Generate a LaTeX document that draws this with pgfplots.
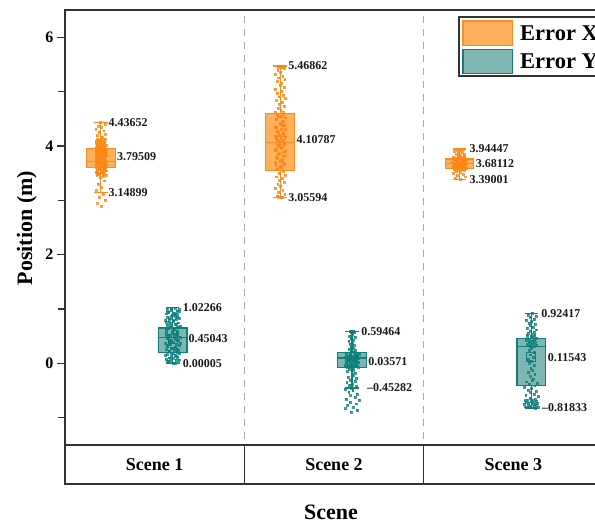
\documentclass[border=0pt]{standalone}
\usepackage{pgfplots}
\pgfplotsset{compat=1.18}
\usepgfplotslibrary{statistics}
\usepackage{fontspec}
\setmainfont{Liberation Serif}
\definecolor{xline}{HTML}{FF8A1E}
\definecolor{xfill}{HTML}{FFB05C}
\definecolor{xpt}{HTML}{FF8410}
\definecolor{yline}{HTML}{0E817D}
\definecolor{yfill}{HTML}{7FB5B2}
\definecolor{ypt}{HTML}{0B7F7B}
\definecolor{axgray}{HTML}{333333}
\definecolor{sepgray}{HTML}{AAAAAA}
\tikzset{lbl/.style={font=\fontsize{12}{14}\selectfont\bfseries, inner sep=0pt, text=black!90}}
\begin{document}
\begin{tikzpicture}[x=1pt,y=1pt]
\useasboundingbox (0,0) rectangle (595,523);
\clip (0,0) rectangle (595,523);
\begin{axis}[
 at={(65pt,78pt)}, anchor=south west,
 scale only axis, width=538pt, height=435pt,
 xmin=0.5, xmax=3.5, ymin=-1.5, ymax=6.5,
 xtick=\empty,
 ytick={0,2,4,6}, minor ytick={-1,1,3,5},
 ytick pos=left, tick align=outside,
 major tick length=8pt, minor tick length=7pt,
 every tick/.style={axgray, line width=1.2pt},
 minor tick style={axgray, line width=1.2pt},
 axis line style={axgray, line width=1.4pt},
 yticklabel style={font=\fontsize{16}{19}\selectfont\bfseries, text=black},
 /pgf/number format/assume math mode=true,
 clip=false,
 boxplot/draw direction=y,
 xbox/.style={draw=xline, fill=xfill, line width=1.2pt, solid},
 ybox/.style={draw=yline, fill=yfill, line width=1.2pt, solid},
 xdots/.style={only marks, mark=square*, mark size=0.95pt, color=xpt, opacity=0.75},
 ydots/.style={only marks, mark=square*, mark size=0.95pt, color=ypt, opacity=0.75},
]
% separators
\draw[sepgray, line width=1pt, dash pattern=on 7.5pt off 5.5pt, dash phase=7.5pt] (axis cs:1.5,6.5) -- (axis cs:1.5,-1.5);
\draw[sepgray, line width=1pt, dash pattern=on 7.5pt off 5.5pt, dash phase=7.5pt] (axis cs:2.5,6.5) -- (axis cs:2.5,-1.5);

% ---------- boxes (filled) ----------
\addplot[xbox, boxplot prepared={draw position=0.7, lower whisker=3.14899, lower quartile=3.61, median=3.72, upper quartile=3.95, upper whisker=4.43652, box extend=0.16, whisker extend=0.075}] coordinates {};
\addplot[xbox, boxplot prepared={draw position=1.7, lower whisker=3.05594, lower quartile=3.55, median=4.07, upper quartile=4.595, upper whisker=5.46862, box extend=0.16, whisker extend=0.075}] coordinates {};
\addplot[xbox, boxplot prepared={draw position=2.7, lower whisker=3.39001, lower quartile=3.59, median=3.67, upper quartile=3.76, upper whisker=3.94447, box extend=0.16, whisker extend=0.075}] coordinates {};
\addplot[ybox, boxplot prepared={draw position=1.1, lower whisker=0.00005, lower quartile=0.20, median=0.47, upper quartile=0.65, upper whisker=1.02266, box extend=0.16, whisker extend=0.075}] coordinates {};
\addplot[ybox, boxplot prepared={draw position=2.1, lower whisker=-0.45282, lower quartile=-0.07, median=0.10, upper quartile=0.20, upper whisker=0.59464, box extend=0.16, whisker extend=0.075}] coordinates {};
\addplot[ybox, boxplot prepared={draw position=3.1, lower whisker=-0.81833, lower quartile=-0.40, median=0.31, upper quartile=0.46, upper whisker=0.92417, box extend=0.16, whisker extend=0.075}] coordinates {};

% mean markers
\addplot[only marks, mark=square, mark size=4pt, xline, line width=0.6pt] coordinates {(0.7,3.79509)(1.7,4.10787)(2.7,3.68112)};
\addplot[only marks, mark=square, mark size=4.5pt, yline, line width=0.6pt] coordinates {(1.1,0.45043)(2.1,0.03571)(3.1,0.11543)};

% ---------- jittered points ----------
% Scene 1, Error X
\addplot[xdots] coordinates {
(0.704,2.89)(0.681,2.95)(0.725,3.01)(0.691,3.06)(0.714,3.12)(0.672,3.18)(0.702,3.24)(0.686,3.30)(0.721,3.36)(0.696,3.42)
(0.711,3.45)(0.677,3.46)(0.729,3.47)(0.693,3.48)(0.717,3.49)(0.683,3.50)(0.705,3.51)(0.675,3.52)(0.719,3.53)(0.699,3.54)
(0.709,3.55)(0.679,3.56)(0.726,3.57)(0.689,3.58)(0.716,3.59)(0.671,3.60)(0.703,3.61)(0.687,3.62)(0.723,3.63)(0.694,3.64)
(0.712,3.65)(0.676,3.66)(0.730,3.67)(0.692,3.68)(0.718,3.69)(0.682,3.70)(0.707,3.71)(0.673,3.72)(0.720,3.73)(0.698,3.74)
(0.698,3.75)(0.720,3.76)(0.673,3.77)(0.707,3.78)(0.682,3.79)(0.718,3.80)(0.692,3.81)(0.730,3.82)(0.676,3.83)(0.712,3.84)
(0.694,3.85)(0.723,3.86)(0.687,3.87)(0.703,3.88)(0.671,3.89)(0.716,3.90)(0.689,3.91)(0.726,3.92)(0.679,3.93)(0.709,3.94)
(0.699,3.95)(0.719,3.96)(0.675,3.97)(0.705,3.98)(0.683,3.99)(0.717,4.00)(0.693,4.01)(0.729,4.02)(0.677,4.03)(0.711,4.04)
(0.696,4.05)(0.721,4.06)(0.686,4.07)(0.702,4.08)(0.672,4.09)(0.714,4.10)(0.691,4.11)(0.725,4.12)(0.681,4.13)(0.704,4.14)
(0.709,4.16)(0.679,4.19)(0.726,4.22)(0.689,4.25)(0.716,4.28)(0.671,4.31)(0.703,4.34)(0.687,4.37)(0.723,4.40)(0.694,4.43)
(0.711,3.505)(0.677,3.525)(0.729,3.545)(0.693,3.565)(0.717,3.585)(0.683,3.605)(0.705,3.625)(0.675,3.645)(0.719,3.665)(0.699,3.685)
(0.709,3.705)(0.679,3.725)(0.726,3.745)(0.689,3.765)(0.716,3.785)(0.671,3.805)(0.703,3.825)(0.687,3.845)(0.723,3.865)(0.694,3.885)
(0.712,3.905)(0.676,3.925)(0.730,3.945)(0.692,3.965)(0.718,3.985)(0.682,4.005)(0.707,4.025)(0.673,4.045)(0.720,4.065)(0.698,4.085)
};
% Scene 1, Error Y
\addplot[ydots] coordinates {
(1.105,0.000)(1.074,0.015)(1.133,0.030)(1.088,0.045)(1.119,0.060)(1.063,0.075)(1.102,0.090)(1.081,0.105)(1.128,0.120)(1.094,0.135)
(1.114,0.150)(1.069,0.165)(1.138,0.180)(1.091,0.195)(1.123,0.210)(1.078,0.225)(1.107,0.240)(1.066,0.255)(1.126,0.270)(1.099,0.285)
(1.112,0.300)(1.072,0.315)(1.135,0.330)(1.085,0.345)(1.121,0.360)(1.061,0.375)(1.104,0.390)(1.082,0.405)(1.130,0.420)(1.092,0.435)
(1.116,0.450)(1.068,0.465)(1.140,0.480)(1.089,0.495)(1.124,0.510)(1.076,0.525)(1.109,0.540)(1.064,0.555)(1.127,0.570)(1.097,0.585)
(1.127,0.600)(1.064,0.615)(1.109,0.630)(1.076,0.645)(1.124,0.660)(1.089,0.675)(1.140,0.690)(1.068,0.705)(1.116,0.720)(1.092,0.735)
(1.130,0.750)(1.082,0.765)(1.104,0.780)(1.061,0.795)(1.121,0.810)(1.085,0.825)(1.135,0.840)(1.072,0.855)(1.112,0.870)(1.099,0.885)
(1.126,0.900)(1.066,0.915)(1.107,0.930)(1.078,0.945)(1.123,0.960)(1.091,0.975)(1.138,0.990)(1.069,1.005)(1.114,1.020)
(1.112,0.008)(1.072,0.038)(1.135,0.068)(1.085,0.098)(1.121,0.128)(1.061,0.158)(1.104,0.188)(1.082,0.218)(1.130,0.248)(1.092,0.278)
(1.116,0.308)(1.068,0.338)(1.140,0.368)(1.089,0.398)(1.124,0.428)(1.076,0.458)(1.109,0.488)(1.064,0.518)(1.127,0.548)(1.097,0.578)
(1.105,0.608)(1.074,0.638)(1.133,0.668)(1.088,0.698)(1.119,0.728)(1.063,0.758)(1.102,0.788)(1.081,0.818)(1.128,0.848)(1.094,0.878)
(1.114,0.908)(1.069,0.938)(1.138,0.968)(1.091,0.998)
};
% Scene 2, Error X
\addplot[xdots] coordinates {
(1.704,3.050)(1.681,3.085)(1.725,3.120)(1.691,3.155)(1.714,3.190)(1.672,3.225)(1.702,3.260)(1.686,3.295)(1.721,3.330)(1.696,3.365)
(1.711,3.400)(1.677,3.435)(1.729,3.470)(1.693,3.505)(1.717,3.540)(1.683,3.575)(1.705,3.610)(1.675,3.645)(1.719,3.680)(1.699,3.715)
(1.709,3.750)(1.679,3.785)(1.726,3.820)(1.689,3.855)(1.716,3.890)(1.671,3.925)(1.703,3.960)(1.687,3.995)(1.723,4.030)(1.694,4.065)
(1.712,4.100)(1.676,4.135)(1.730,4.170)(1.692,4.205)(1.718,4.240)(1.682,4.275)(1.707,4.310)(1.673,4.345)(1.720,4.380)(1.698,4.415)
(1.709,4.450)(1.679,4.485)(1.726,4.520)(1.689,4.555)(1.716,4.590)(1.671,4.625)(1.703,4.660)(1.687,4.695)(1.723,4.730)(1.694,4.765)
(1.712,4.800)(1.676,4.835)(1.730,4.870)(1.692,4.905)(1.718,4.940)(1.682,4.975)(1.707,5.010)(1.673,5.045)(1.720,5.080)(1.698,5.115)
(1.704,5.150)(1.681,5.185)(1.725,5.220)(1.691,5.255)(1.714,5.290)(1.672,5.325)(1.702,5.360)(1.686,5.395)(1.721,5.430)(1.696,5.465)
(1.698,3.62)(1.720,3.66)(1.673,3.70)(1.707,3.74)(1.682,3.78)(1.718,3.82)(1.692,3.86)(1.730,3.90)(1.676,3.94)(1.712,3.98)
(1.694,4.02)(1.723,4.06)(1.687,4.10)(1.703,4.14)(1.671,4.18)(1.716,4.22)(1.689,4.26)(1.726,4.30)(1.679,4.34)(1.709,4.38)
(1.699,4.42)(1.719,4.46)(1.675,4.50)(1.705,4.54)(1.683,4.58)(1.717,4.62)
(1.695,3.060)(1.712,3.065)(1.685,3.070)(1.705,5.450)(1.690,5.455)(1.716,5.460)
};
% Scene 2, Error Y
\addplot[ydots] coordinates {
(2.098,0.595)(2.110,0.590)(2.088,0.585)(2.104,0.575)(2.093,0.565)(2.115,0.580)
(2.102,0.530)(2.087,0.505)(2.117,0.480)(2.094,0.455)(2.109,0.430)(2.082,0.405)(2.101,0.380)(2.090,0.355)(2.114,0.330)(2.097,0.305)
(2.107,0.280)(2.085,0.260)(2.119,0.240)(2.096,0.220)(2.112,0.205)
(2.105,-0.080)(2.074,-0.072)(2.133,-0.064)(2.088,-0.056)(2.119,-0.048)(2.063,-0.040)(2.102,-0.032)(2.081,-0.024)(2.128,-0.016)(2.094,-0.008)
(2.114,0.000)(2.069,0.008)(2.138,0.016)(2.091,0.024)(2.123,0.032)(2.078,0.040)(2.107,0.048)(2.066,0.056)(2.126,0.064)(2.099,0.072)
(2.112,0.080)(2.072,0.088)(2.135,0.096)(2.085,0.104)(2.121,0.112)(2.061,0.120)(2.104,0.128)(2.082,0.136)(2.130,0.144)(2.092,0.152)
(2.116,0.160)(2.068,0.168)(2.140,0.176)(2.089,0.184)(2.124,0.192)
(2.104,0.052)(2.081,0.059)(2.125,0.066)(2.091,0.073)(2.114,0.080)(2.072,0.087)(2.102,0.094)(2.086,0.101)(2.121,0.108)(2.096,0.115)
(2.111,0.122)(2.077,0.129)(2.129,0.136)(2.093,0.143)(2.117,0.150)
(2.083,-0.100)(2.105,-0.125)(2.075,-0.150)(2.119,-0.175)(2.099,-0.200)(2.109,-0.225)(2.079,-0.250)(2.126,-0.275)(2.089,-0.300)(2.116,-0.325)
(2.071,-0.350)(2.103,-0.375)(2.087,-0.400)(2.123,-0.425)(2.094,-0.450)
(2.061,-0.47)(2.104,-0.50)(2.082,-0.53)(2.130,-0.56)(2.092,-0.59)(2.116,-0.62)(2.068,-0.65)(2.140,-0.68)(2.089,-0.71)(2.124,-0.74)
(2.076,-0.77)(2.109,-0.80)(2.064,-0.83)(2.127,-0.86)(2.097,-0.89)
};
% Scene 3, Error X
\addplot[xdots] coordinates {
(2.705,3.395)(2.674,3.415)(2.733,3.435)(2.688,3.455)(2.719,3.475)(2.663,3.495)(2.702,3.515)(2.681,3.535)
(2.728,3.550)(2.694,3.559)(2.714,3.567)(2.669,3.576)(2.738,3.584)(2.691,3.593)(2.723,3.601)(2.678,3.610)(2.707,3.618)(2.666,3.627)
(2.726,3.635)(2.699,3.644)(2.712,3.652)(2.672,3.661)(2.735,3.669)(2.685,3.678)(2.721,3.686)(2.661,3.695)(2.704,3.703)(2.682,3.712)
(2.730,3.720)(2.692,3.729)(2.716,3.737)(2.668,3.746)(2.740,3.754)(2.689,3.763)(2.724,3.771)(2.676,3.780)(2.709,3.788)(2.664,3.797)
(2.727,3.805)(2.697,3.814)
(2.704,3.830)(2.681,3.843)(2.725,3.856)(2.691,3.869)(2.714,3.882)(2.672,3.895)(2.702,3.908)(2.686,3.921)(2.721,3.934)(2.696,3.944)
(2.711,3.565)(2.677,3.578)(2.729,3.590)(2.693,3.603)(2.717,3.615)(2.683,3.628)(2.705,3.640)(2.675,3.653)(2.719,3.665)(2.699,3.678)
(2.709,3.690)(2.679,3.703)(2.726,3.715)(2.689,3.728)(2.716,3.740)(2.671,3.753)(2.703,3.765)(2.687,3.778)(2.723,3.790)(2.694,3.803)
};
% Scene 3, Error Y
\addplot[ydots] coordinates {
(3.104,0.920)(3.081,0.895)(3.125,0.870)(3.091,0.845)(3.114,0.820)(3.072,0.795)(3.102,0.770)(3.086,0.745)(3.121,0.720)(3.096,0.695)
(3.111,0.670)(3.077,0.645)(3.129,0.620)(3.093,0.595)(3.117,0.570)
(3.083,0.555)(3.105,0.542)(3.075,0.529)(3.119,0.516)(3.099,0.503)(3.109,0.490)(3.079,0.477)(3.126,0.464)(3.089,0.451)(3.116,0.438)
(3.071,0.425)(3.103,0.412)(3.087,0.399)(3.123,0.386)(3.094,0.373)(3.112,0.360)(3.076,0.347)(3.130,0.334)(3.092,0.321)(3.118,0.308)
(3.102,0.28)(3.087,0.24)(3.117,0.20)(3.094,0.16)(3.109,0.12)(3.082,0.08)(3.101,0.04)(3.090,0.00)(3.114,-0.04)(3.097,-0.08)
(3.107,-0.12)(3.085,-0.16)(3.119,-0.20)(3.096,-0.24)(3.112,-0.28)
(3.105,-0.310)(3.074,-0.335)(3.133,-0.360)(3.088,-0.385)(3.119,-0.410)(3.063,-0.435)(3.102,-0.460)(3.081,-0.485)(3.128,-0.510)(3.094,-0.535)
(3.114,-0.560)(3.069,-0.585)(3.138,-0.610)(3.091,-0.635)(3.123,-0.660)
(3.078,-0.668)(3.107,-0.676)(3.066,-0.684)(3.126,-0.692)(3.099,-0.700)(3.112,-0.708)(3.072,-0.716)(3.135,-0.724)(3.085,-0.732)(3.121,-0.740)
(3.061,-0.748)(3.104,-0.756)(3.082,-0.764)(3.130,-0.772)(3.092,-0.780)(3.116,-0.788)(3.068,-0.796)(3.140,-0.804)(3.089,-0.812)(3.124,-0.820)
};

% ---------- box outlines on top ----------
\addplot[xbox, fill=none, boxplot prepared={draw position=0.7, lower whisker=3.14899, lower quartile=3.61, median=3.72, upper quartile=3.95, upper whisker=4.43652, box extend=0.16, whisker extend=0.075}] coordinates {};
\addplot[xbox, fill=none, boxplot prepared={draw position=1.7, lower whisker=3.05594, lower quartile=3.55, median=4.07, upper quartile=4.595, upper whisker=5.46862, box extend=0.16, whisker extend=0.075}] coordinates {};
\addplot[xbox, fill=none, boxplot prepared={draw position=2.7, lower whisker=3.39001, lower quartile=3.59, median=3.67, upper quartile=3.76, upper whisker=3.94447, box extend=0.16, whisker extend=0.075}] coordinates {};
\addplot[ybox, fill=none, boxplot prepared={draw position=1.1, lower whisker=0.00005, lower quartile=0.20, median=0.47, upper quartile=0.65, upper whisker=1.02266, box extend=0.16, whisker extend=0.075}] coordinates {};
\addplot[ybox, fill=none, boxplot prepared={draw position=2.1, lower whisker=-0.45282, lower quartile=-0.07, median=0.10, upper quartile=0.20, upper whisker=0.59464, box extend=0.16, whisker extend=0.075}] coordinates {};
\addplot[ybox, fill=none, boxplot prepared={draw position=3.1, lower whisker=-0.81833, lower quartile=-0.40, median=0.31, upper quartile=0.46, upper whisker=0.92417, box extend=0.16, whisker extend=0.075}] coordinates {};

% ---------- value labels ----------
\node[lbl, anchor=west] at (axis cs:0.742,4.43652) {4.43652};
\node[lbl, anchor=west] at (axis cs:0.790,3.79509) {3.79509};
\node[lbl, anchor=west] at (axis cs:0.742,3.14899) {3.14899};
\node[lbl, anchor=west] at (axis cs:1.745,5.46862) {5.46862};
\node[lbl, anchor=west] at (axis cs:1.790,4.10787) {4.10787};
\node[lbl, anchor=west] at (axis cs:1.745,3.05594) {3.05594};
\node[lbl, anchor=west] at (axis cs:2.755,3.94447) {3.94447};
\node[lbl, anchor=west] at (axis cs:2.790,3.68112) {3.68112};
\node[lbl, anchor=west] at (axis cs:2.755,3.39001) {3.39001};
\node[lbl, anchor=west] at (axis cs:1.156,1.02266) {1.02266};
\node[lbl, anchor=west] at (axis cs:1.188,0.45043) {0.45043};
\node[lbl, anchor=west] at (axis cs:1.156,0.00005) {0.00005};
\node[lbl, anchor=west] at (axis cs:2.151,0.59464) {0.59464};
\node[lbl, anchor=west] at (axis cs:2.190,0.03571) {0.03571};
\node[lbl, anchor=west] at (axis cs:2.184,-0.45282) {--0.45282};
\node[lbl, anchor=west] at (axis cs:3.155,0.92417) {0.92417};
\node[lbl, anchor=west] at (axis cs:3.192,0.11543) {0.11543};
\node[lbl, anchor=west] at (axis cs:3.159,-0.81833) {--0.81833};
\end{axis}

% ---------- category band ----------
\begin{axis}[
 at={(65pt,39pt)}, anchor=south west,
 scale only axis, width=538pt, height=39pt,
 xmin=0.5, xmax=3.5, ymin=0, ymax=1,
 xtick=\empty, ytick=\empty,
 axis line style={axgray, line width=1.4pt},
 clip=false,
]
\draw[axgray, line width=1.4pt] (axis cs:1.5,0) -- (axis cs:1.5,1);
\draw[axgray, line width=1.4pt] (axis cs:2.5,0) -- (axis cs:2.5,1);
\node[font=\fontsize{18}{21}\selectfont\bfseries] at (axis cs:1,0.5) {Scene 1};
\node[font=\fontsize{18}{21}\selectfont\bfseries] at (axis cs:2,0.5) {Scene 2};
\node[font=\fontsize{18}{21}\selectfont\bfseries] at (axis cs:3,0.5) {Scene 3};
\end{axis}

% axis titles
\node[rotate=90, anchor=base, font=\fontsize{22}{26}\selectfont\bfseries] at (32,295) {Position (m)};
\node[anchor=base, font=\fontsize{22}{26}\selectfont\bfseries] at (331,4) {Scene};

% legend
\draw[axgray, line width=1.8pt, fill=white] (459.3,506) rectangle (640,447);
\draw[xline, line width=1.2pt, fill=xfill] (463,502) rectangle (512.7,477.5);
\draw[yline, line width=1.2pt, fill=yfill] (463,473.7) rectangle (512.7,449.5);
\node[anchor=base west, inner sep=0pt, font=\fontsize{22.5}{26}\selectfont\bfseries] at (520,482.3) {Error X};
\node[anchor=base west, inner sep=0pt, font=\fontsize{22.5}{26}\selectfont\bfseries] at (520,454.7) {Error Y};
\end{tikzpicture}
\end{document}
